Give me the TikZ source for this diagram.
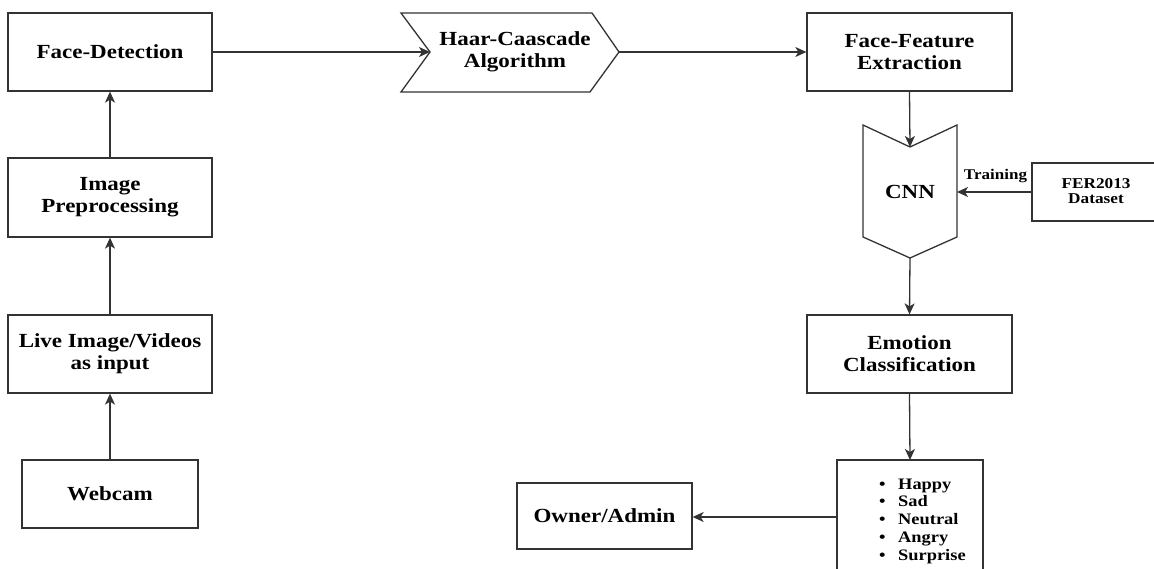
\documentclass[tikz,border=0pt]{standalone}
\usepackage{fontspec}
\setmainfont{Liberation Serif}[FakeStretch=1.15]
\usetikzlibrary{arrows.meta}
\definecolor{ln}{HTML}{333333}
\tikzset{
  box/.style={draw=ln, line width=1.3pt, minimum width=204pt, minimum height=78pt, align=center, inner sep=0pt, font=\fontsize{20}{22}\selectfont\bfseries},
  lbl/.style={align=center, inner sep=0pt, font=\fontsize{20}{22}\selectfont\bfseries},
  shp/.style={draw=ln, line width=1.3pt, line join=miter},
  conn/.style={draw=ln, line width=1.3pt, -{Stealth[length=11pt,width=10pt,inset=3pt]}},
}
\begin{document}
\begin{tikzpicture}[x=1pt,y=-1pt]
\useasboundingbox (0,0) rectangle (1154,569);
% left column
\node[box] (fd) at (110,52) {Face-Detection};
\node[box, minimum height=79pt] (ip) at (110,197.5) {Image\\Preprocessing};
\node[box] (live) at (110,354) {Live Image/Videos\\as input};
\node[box, minimum width=176pt, minimum height=68pt] (web) at (110,494) {Webcam};
% Haar shape
\draw[shp] (401,13) -- (592,13) -- (619,52) -- (590,92) -- (401,92) -- (430,52) -- cycle;
\coordinate (haarin) at (430,52);
\coordinate (haarout) at (619,52);
\node[lbl] (haar) at (515,52) {Haar-Caascade\\Algorithm};
% right column
\node[box, minimum width=205pt] (ffe) at (909.5,52) {Face-Feature\\Extraction};
\draw[shp] (863,125) -- (910,147) -- (957,125) -- (957,237) -- (910,258) -- (863,237) -- cycle;
\coordinate (cnnin) at (910,147);
\coordinate (cnnright) at (957,192);
\coordinate (cnnout) at (910,258);
\node[lbl] (cnn) at (910,192) {CNN};
% FER box (cut at the right edge)
\draw[shp] (1156,163) -- (1032,163) -- (1032,221) -- (1156,221);
\coordinate (ferleft) at (1032,192);
\node[lbl, font=\fontsize{15}{15}\selectfont\bfseries] (fer) at (1096,191) {FER2013\\Dataset};
\node[inner sep=0pt, anchor=base, font=\fontsize{14.8}{15}\selectfont\bfseries] (train) at (995.5,180) {Training};
\node[box, minimum width=205pt] (ec) at (909.5,354) {Emotion\\Classification};
% list box (cut at the bottom edge)
\draw[shp] (837,571) -- (837,460) -- (983,460) -- (983,571);
\coordinate (listtop) at (910,460);
\coordinate (listleft) at (837,517);
\node[inner sep=0pt, anchor=west, align=left, font=\fontsize{16}{17.75}\selectfont\bfseries] (list) at (879,521)
  {\makebox[19pt][l]{\textbullet}Happy\\\makebox[19pt][l]{\textbullet}Sad\\\makebox[19pt][l]{\textbullet}Neutral\\\makebox[19pt][l]{\textbullet}Angry\\\makebox[19pt][l]{\textbullet}Surprise};
\node[box, minimum width=175pt, minimum height=66pt] (owner) at (604.5,516) {Owner/Admin};
% connectors
\draw[conn] (web.north) -- (live.south);
\draw[conn] (live.north) -- (ip.south);
\draw[conn] (ip.north) -- (fd.south);
\draw[conn] (fd.east) -- (haarin);
\draw[conn] (haarout) -- (ffe.west);
\draw[conn] (ffe.south) -- (cnnin);
\draw[conn] (ferleft) -- (cnnright);
\draw[conn] (cnnout) -- (ec.north);
\draw[conn] (ec.south) -- (listtop);
\draw[conn] (listleft) -- (owner.east|-listleft);
\end{tikzpicture}
\end{document}
